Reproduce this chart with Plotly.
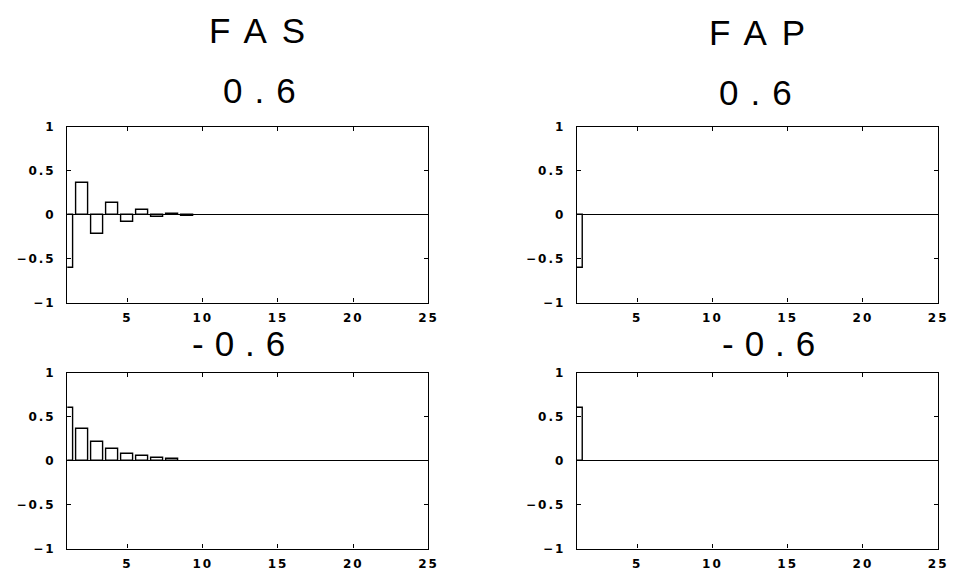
import plotly.graph_objects as go

# Autocorrelation (FAS) and partial autocorrelation (FAP) values by lag
fas_pos_lags = [1, 2, 3, 4, 5, 6, 7, 8, 9]
fas_pos_vals = [-0.6, 0.36, -0.22, 0.13, -0.08, 0.05, -0.03, 0.015, -0.01]
fap_pos_lags = [1]
fap_pos_vals = [-0.6]

fas_neg_lags = [1, 2, 3, 4, 5, 6, 7, 8]
fas_neg_vals = [0.6, 0.36, 0.22, 0.13, 0.08, 0.05, 0.03, 0.017]
fap_neg_lags = [1]
fap_neg_vals = [0.6]

x_ticks = [5, 10, 15, 20, 25]
y_ticks = [-1, -0.5, 0, 0.5, 1]
y_tick_labels = ["−1", "−0.5", "0", "0.5", "1"]

W, H = 960, 578
TICK_SP = 2     # letter spacing of tick labels (px)


def spaced(txt, sp):
    return f'<span style="letter-spacing:{sp}px">{txt}</span>'


fig = go.Figure()

panels = [
    ("x", "y", fas_pos_lags, fas_pos_vals),
    ("x2", "y2", fap_pos_lags, fap_pos_vals),
    ("x3", "y3", fas_neg_lags, fas_neg_vals),
    ("x4", "y4", fap_neg_lags, fap_neg_vals),
]
for xa, ya, lags, vals in panels:
    fig.add_trace(go.Bar(
        x=lags, y=vals, width=0.8, xaxis=xa, yaxis=ya,
        marker=dict(color="white", line=dict(color="black", width=1.4)),
        showlegend=False, hoverinfo="x+y",
    ))

x_dom_left = [68 / W, 433 / W]
x_dom_right = [583 / W, 948 / W]
y_dom_top = [1 - 303 / H, 1 - 123 / H]
y_dom_bot = [1 - 555 / H, 1 - 375 / H]

tick_font = dict(family="DejaVu Sans", size=12, color="black", weight="bold")


def xaxis(dom, anchor):
    return dict(
        domain=dom, anchor=anchor, range=[1, 25],
        tickvals=x_ticks, ticktext=[spaced(str(v), TICK_SP) for v in x_ticks],
        tickangle=0,
        ticks="inside", ticklen=4, tickcolor="black", tickwidth=1.2,
        showline=True, linecolor="black", linewidth=1.4, mirror="ticks",
        showgrid=False, zeroline=False, tickfont=tick_font,
        ticklabelstandoff=4, fixedrange=True,
    )


def yaxis(dom, anchor):
    return dict(
        domain=dom, anchor=anchor, range=[-1, 1],
        tickvals=y_ticks, ticktext=[spaced(t, TICK_SP) for t in y_tick_labels],
        ticks="inside", ticklen=4, tickcolor="black", tickwidth=1.2,
        showline=True, linecolor="black", linewidth=1.4, mirror="ticks",
        showgrid=False, zeroline=True, zerolinecolor="black", zerolinewidth=1.4,
        tickfont=tick_font, ticklabelstandoff=8, fixedrange=True,
    )


title_font = dict(family="Liberation Sans", size=35, color="black")
# (text, centre x px, centre y px, letter spacing px)
titles = [
    ("FAS", 260, 24, 15),
    ("FAP", 765, 26, 15),
    ("0.6", 262, 86, 12),
    ("0.6", 764, 88, 12),
    ("-0.6", 241, 345, 11),
    ("-0.6", 777, 345, 11),
]
annotations = [
    dict(text=spaced(t, sp), x=(px + sp / 2) / W, y=1 - py / H,
         xref="paper", yref="paper", xanchor="center", yanchor="middle",
         showarrow=False, font=title_font)
    for t, px, py, sp in titles
]

fig.update_layout(
    width=W, height=H,
    margin=dict(l=0, r=0, t=0, b=0),
    paper_bgcolor="white", plot_bgcolor="white",
    xaxis=xaxis(x_dom_left, "y"),
    yaxis=yaxis(y_dom_top, "x"),
    xaxis2=xaxis(x_dom_right, "y2"),
    yaxis2=yaxis(y_dom_top, "x2"),
    xaxis3=xaxis(x_dom_left, "y3"),
    yaxis3=yaxis(y_dom_bot, "x3"),
    xaxis4=xaxis(x_dom_right, "y4"),
    yaxis4=yaxis(y_dom_bot, "x4"),
    annotations=annotations,
    bargap=0,
)

fig.write_html("out.html", config=dict(displayModeBar=False))
